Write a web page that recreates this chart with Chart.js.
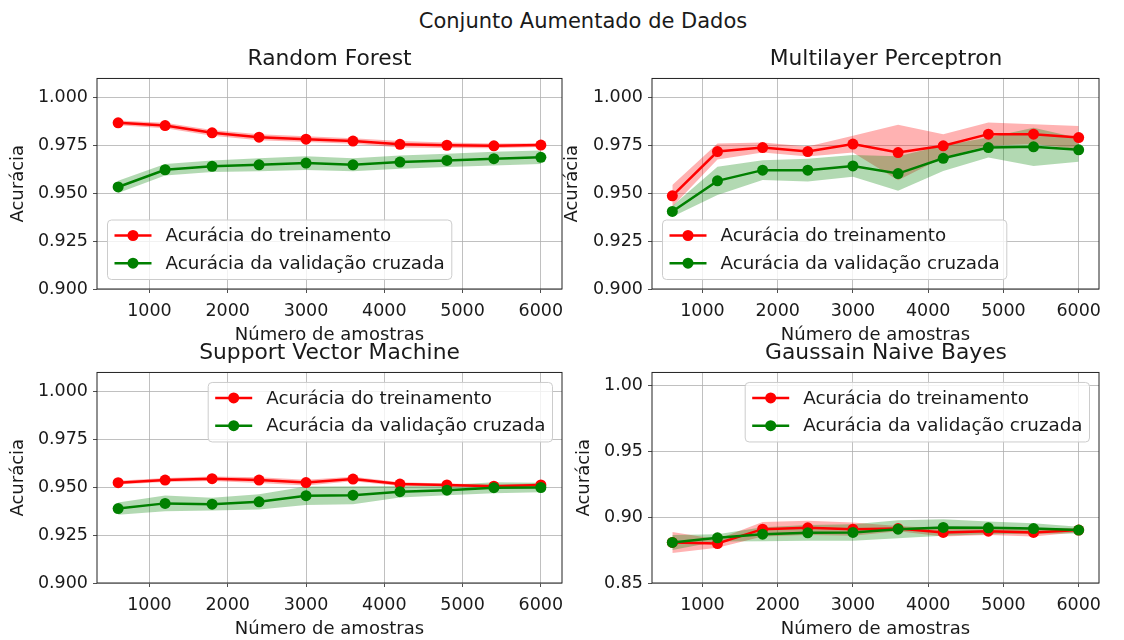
<!DOCTYPE html>
<html>
<head>
<meta charset="utf-8">
<script src="https://cdn.jsdelivr.net/npm/chart.js@4.4.1/dist/chart.umd.min.js"></script>
<style>
  body { margin: 0; background: #fff; width: 1124px; height: 640px; position: relative; overflow: hidden; }
  canvas { position: absolute; }
  #suptitle {
    position: absolute; left: 0; width: 1166px; top: 9px;
    text-align: center; font: 21px "DejaVu Sans", sans-serif; line-height: 25px; color: #1a1a1a;
  }
</style>
</head>
<body>
<div id="suptitle">Conjunto Aumentado de Dados</div>
<canvas id="rf" width="575" height="306" style="left:0;top:40px"></canvas>
<canvas id="mlp" width="564" height="306" style="left:560px;top:40px"></canvas>
<canvas id="svm" width="575" height="306" style="left:0;top:334px"></canvas>
<canvas id="gnb" width="564" height="306" style="left:560px;top:334px"></canvas>
<script>
// training set sizes
const sizes = [600, 1200, 1800, 2400, 3000, 3600, 4200, 4800, 5400, 6000];
const xTicks = [1000, 2000, 3000, 4000, 5000, 6000];
const yTicksA = [0.900, 0.925, 0.950, 0.975, 1.000];
const yTicksB = [0.85, 0.90, 0.95, 1.00];

// Random Forest
const rfTrain = [0.9868, 0.9854, 0.9816, 0.9793, 0.9783, 0.9773, 0.9756, 0.9751, 0.9748, 0.9752];
const rfTrainStd = [0.0012, 0.0014, 0.0015, 0.0016, 0.0015, 0.0014, 0.0017, 0.0014, 0.0012, 0.0010];
const rfVal = [0.9533, 0.9623, 0.9641, 0.9649, 0.9658, 0.9649, 0.9663, 0.9672, 0.9681, 0.9688];
const rfValStd = [0.0032, 0.0030, 0.0030, 0.0034, 0.0036, 0.0034, 0.0035, 0.0034, 0.0036, 0.0035];

// Multilayer Perceptron
const mlpTrain = [0.9487, 0.9718, 0.9739, 0.9718, 0.9757, 0.9713, 0.9748, 0.9809, 0.9809, 0.9791];
const mlpTrainStd = [0.0057, 0.0042, 0.0026, 0.0026, 0.0044, 0.0145, 0.0061, 0.0061, 0.0052, 0.0061];
const mlpVal = [0.9405, 0.9565, 0.9621, 0.9621, 0.9643, 0.9603, 0.9683, 0.9739, 0.9743, 0.9727];
const mlpValStd = [0.0028, 0.0074, 0.0052, 0.0059, 0.0057, 0.0090, 0.0067, 0.0052, 0.0100, 0.0062];

// Support Vector Machine
const svmTrain = [0.9524, 0.9538, 0.9545, 0.9538, 0.9525, 0.9543, 0.9517, 0.9512, 0.9506, 0.9512];
const svmTrainStd = [0.0010, 0.0010, 0.0012, 0.0015, 0.0015, 0.0012, 0.0010, 0.0008, 0.0008, 0.0008];
const svmVal = [0.9389, 0.9416, 0.9412, 0.9424, 0.9456, 0.9459, 0.9477, 0.9485, 0.9498, 0.9499];
const svmValStd = [0.0032, 0.0041, 0.0033, 0.0040, 0.0048, 0.0047, 0.0030, 0.0027, 0.0029, 0.0025];

// Gaussian Naive Bayes
const gnbTrain = [0.8808, 0.8800, 0.8909, 0.8919, 0.8909, 0.8914, 0.8884, 0.8894, 0.8884, 0.8902];
const gnbTrainStd = [0.0080, 0.0032, 0.0055, 0.0055, 0.0050, 0.0020, 0.0030, 0.0030, 0.0030, 0.0016];
const gnbVal = [0.8808, 0.8843, 0.8871, 0.8881, 0.8884, 0.8909, 0.8922, 0.8919, 0.8914, 0.8902];
const gnbValStd = [0.0057, 0.0028, 0.0053, 0.0060, 0.0063, 0.0068, 0.0063, 0.0048, 0.0040, 0.0025];

const trainLabel = 'Acurácia do treinamento';
const valLabel = 'Acurácia da validação cruzada';
const FONT = '"DejaVu Sans", sans-serif';
const TEXT = '#1a1a1a';

Chart.defaults.font.family = FONT;
Chart.defaults.color = TEXT;

const pts = arr => arr.map((v, i) => ({ x: sizes[i], y: v }));

function band(mean, std, color, order) {
  const upper = mean.map((m, i) => m + std[i]);
  const lower = mean.map((m, i) => m - std[i]);
  return [
    { data: pts(upper), borderWidth: 0, pointRadius: 0, fill: false, order },
    { data: pts(lower), borderWidth: 0, pointRadius: 0, fill: '-1', backgroundColor: color, order }
  ];
}

function curve(mean, color, label, order) {
  return {
    label, data: pts(mean), borderColor: color, backgroundColor: color,
    pointBackgroundColor: color, pointBorderColor: color,
    borderWidth: 2.5, pointRadius: 5.5, pointBorderWidth: 0, fill: false, order
  };
}

function roundRect(ctx, x, y, w, h, r) {
  ctx.beginPath();
  ctx.moveTo(x + r, y);
  ctx.lineTo(x + w - r, y);
  ctx.arcTo(x + w, y, x + w, y + r, r);
  ctx.lineTo(x + w, y + h - r);
  ctx.arcTo(x + w, y + h, x + w - r, y + h, r);
  ctx.lineTo(x + r, y + h);
  ctx.arcTo(x, y + h, x, y + h - r, r);
  ctx.lineTo(x, y + r);
  ctx.arcTo(x, y, x + r, y, r);
  ctx.closePath();
}

// axes frame on all four sides
const framePlugin = {
  id: 'frame',
  afterDatasetsDraw(chart) {
    const { ctx, chartArea: a } = chart;
    ctx.save();
    ctx.strokeStyle = '#222';
    ctx.lineWidth = 1;
    ctx.strokeRect(a.left, a.top, a.width, a.height);
    ctx.restore();
  }
};

// nudge the subplot title sideways
const titleShift = {
  id: 'titleShift',
  afterLayout(chart, args, opts) {
    const t = chart.titleBlock;
    if (t && opts.dx) { t.left += opts.dx; t.right += opts.dx; }
  }
};

// matplotlib-like legend box inside the axes
const boxLegend = {
  id: 'boxLegend',
  afterDraw(chart, args, opts) {
    const { ctx, chartArea: a } = chart;
    const items = chart.data.datasets.filter(d => d.label);
    ctx.save();
    ctx.font = '18.3px ' + FONT;
    const pad = 7, handle = 37, gap = 14, row = 27.7, h = 59.5;
    const textW = Math.max(...items.map(d => ctx.measureText(d.label).width));
    const w = pad + handle + gap + textW + pad;
    const x = opts.loc === 'upper right' ? a.right - 9.5 - w : a.left + 10.5;
    const y = opts.loc === 'upper right' ? a.top + 10 : a.bottom - 9.5 - h;
    roundRect(ctx, x, y, w, h, 4);
    ctx.fillStyle = 'rgba(255,255,255,0.8)';
    ctx.fill();
    ctx.strokeStyle = '#cccccc';
    ctx.lineWidth = 1;
    ctx.stroke();
    items.forEach((d, i) => {
      const cy = y + 15.5 + i * row;
      ctx.strokeStyle = d.borderColor;
      ctx.lineWidth = d.borderWidth;
      ctx.beginPath();
      ctx.moveTo(x + pad, cy);
      ctx.lineTo(x + pad + handle, cy);
      ctx.stroke();
      ctx.fillStyle = d.pointBackgroundColor;
      ctx.beginPath();
      ctx.arc(x + pad + handle / 2, cy, d.pointRadius, 0, Math.PI * 2);
      ctx.fill();
      ctx.fillStyle = TEXT;
      ctx.textBaseline = 'middle';
      ctx.textAlign = 'left';
      ctx.fillText(d.label, x + pad + handle + gap, cy + 1);
    });
    ctx.restore();
  }
};

function makeChart(id, title, train, trainStd, val, valStd, yMin, yTicks, decimals, legendLoc, padLeft, yWidth, padRight, titleDx) {
  const datasets = [
    ...band(train, trainStd, 'rgba(255,0,0,0.3)', 4),
    ...band(val, valStd, 'rgba(0,128,0,0.3)', 3),
    curve(train, '#ff0000', trainLabel, 1),
    curve(val, '#008000', valLabel, 0)
  ];
  return new Chart(document.getElementById(id), {
    type: 'line',
    data: { datasets },
    options: {
      responsive: false,
      animation: false,
      devicePixelRatio: 1,
      layout: { padding: { left: padLeft, right: padRight, top: 0, bottom: 0 } },
      scales: {
        x: {
          type: 'linear', min: 330, max: 6270,
          afterBuildTicks: s => { s.ticks = xTicks.map(v => ({ value: v })); },
          afterFit: s => { s.height = 57; },
          ticks: { font: { size: 17.5 }, color: TEXT, padding: 8, maxRotation: 0, callback: v => String(v) },
          grid: { color: '#b0b0b0', lineWidth: 0.8, tickLength: 4, tickColor: '#222' },
          border: { display: false },
          title: { display: true, text: 'Número de amostras', font: { size: 18 }, color: TEXT, padding: 0 }
        },
        y: {
          min: yMin, max: 1.01,
          afterBuildTicks: s => { s.ticks = yTicks.map(v => ({ value: v })); },
          afterFit: s => { s.width = yWidth; },
          ticks: { font: { size: 17.5 }, color: TEXT, padding: 5, callback: v => Number(v).toFixed(decimals) },
          grid: { color: '#b0b0b0', lineWidth: 0.8, tickLength: 4, tickColor: '#222' },
          border: { display: false },
          title: { display: true, text: 'Acurácia', font: { size: 18 }, color: TEXT, padding: 0 }
        }
      },
      plugins: {
        legend: { display: false },
        tooltip: { enabled: false },
        title: {
          display: true, text: title, color: TEXT, fullSize: false,
          font: { size: 21.8, weight: 'normal' },
          padding: { top: 6.6, bottom: 5.7 }
        },
        titleShift: { dx: titleDx },
        boxLegend: { loc: legendLoc }
      }
    },
    plugins: [framePlugin, boxLegend, titleShift]
  });
}

makeChart('rf', 'Random Forest', rfTrain, rfTrainStd, rfVal, rfValStd, 0.9, yTicksA, 3, 'lower left', 8, 89, 13, 0);
makeChart('mlp', 'Multilayer Perceptron', mlpTrain, mlpTrainStd, mlpVal, mlpValStd, 0.9, yTicksA, 3, 'lower left', 2, 90, 25, 10.5);
makeChart('svm', 'Support Vector Machine', svmTrain, svmTrainStd, svmVal, svmValStd, 0.9, yTicksA, 3, 'upper right', 8, 89, 13, 0);
makeChart('gnb', 'Gaussain Naive Bayes', gnbTrain, gnbTrainStd, gnbVal, gnbValStd, 0.85, yTicksB, 2, 'upper right', 14, 78, 25, 10.5);
</script>
</body>
</html>
